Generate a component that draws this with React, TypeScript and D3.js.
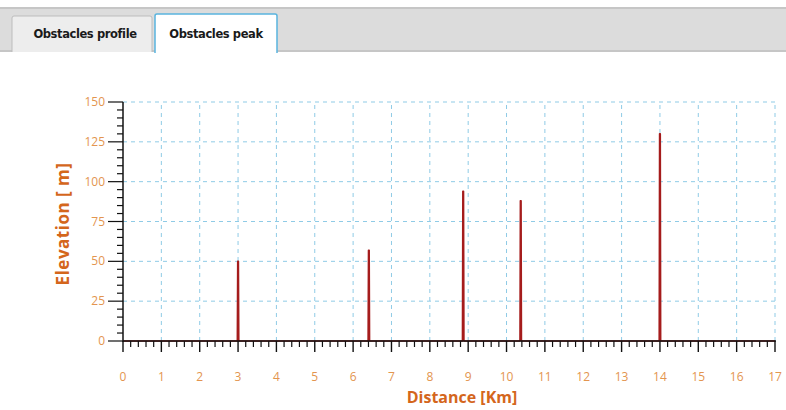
import React from "react";
import * as d3 from "d3";

const tabs = ["Obstacles profile", "Obstacles peak"];
const peakDistances = [3.0, 6.41, 8.87, 10.37, 14.0];
const peakElevations = [50, 57, 94, 88, 130];
const xTicks = d3.range(0, 18);
const yTicks = [0, 25, 50, 75, 100, 125, 150];
const xTitle = "Distance [Km]";
const yTitle = "Elevation [ m]";

const W = 786;
const H = 410;
const x0 = 123, x1 = 775, y0 = 341, y1 = 102;

export default function App() {
  const x = d3.scaleLinear().domain([0, 17]).range([x0, x1]);
  const y = d3.scaleLinear().domain([0, 150]).range([y0, y1]);
  const xMinor = d3.range(0, 17.0001, 0.2).filter((v) => Math.abs(v - Math.round(v)) > 0.01);
  const yMinor = d3.range(0, 150.0001, 5).filter((v) => v % 25 !== 0);
  const hw = 0.02;
  const spikePts: [number, number][] = [[0, 0]];
  peakDistances.forEach((d, i) => {
    spikePts.push([d - hw, 0], [d - hw / 2, peakElevations[i]], [d + hw / 2, peakElevations[i]], [d + hw, 0]);
  });
  spikePts.push([17, 0]);
  const line = d3.line<[number, number]>().x((p) => x(p[0])).y((p) => y(p[1]));
  const area = d3.area<[number, number]>().x((p) => x(p[0])).y0(y(0)).y1((p) => y(p[1]));

  const titleColor = "#d4661c";
  const tickColor = "#e3954f";
  const gridColor = "#8fcbe6";

  return (
    <svg width={W} height={H} style={{ position: "absolute", left: 0, top: 0, background: "#fff" }}
      fontFamily="'Open Sans', 'DejaVu Sans', sans-serif">
      <rect x={0} y={0} width={W} height={H} fill="#fff" />
      {/* tab strip */}
      <rect x={0} y={7} width={W} height={45} fill="#dcdcdc" />
      <rect x={0} y={7} width={W} height={2} fill="#c6c6c6" />
      <rect x={0} y={50} width={W} height={2} fill="#c6c6c6" />
      <path d="M12,52 V18 Q12,16 14,16 H150 Q152,16 152,18 V52" fill="#ededed" stroke="#bdbdbd" strokeWidth={1} />
      <path d="M155,53 V16 Q155,14 157,14 H275 Q277,14 277,16 V53" fill="#fff" stroke="#5ab4de" strokeWidth={1.5} />
      <text x={85} y={38} textAnchor="middle" fontFamily="'DejaVu Sans', sans-serif" fontWeight="bold" fontSize={11.5} fill="#1a1a1a" letterSpacing={-0.4}>{tabs[0]}</text>
      <text x={216} y={38} textAnchor="middle" fontFamily="'DejaVu Sans', sans-serif" fontWeight="bold" fontSize={11.5} fill="#1a1a1a" letterSpacing={-0.4}>{tabs[1]}</text>

      {/* grid */}
      <g stroke={gridColor} strokeWidth={1} strokeDasharray="4,4">
        {xTicks.filter((t) => t > 0).map((t) => (
          <line key={"gx" + t} x1={x(t)} x2={x(t)} y1={y(0)} y2={y(150)} />
        ))}
        {yTicks.filter((t) => t > 0).map((t) => (
          <line key={"gy" + t} x1={x(0)} x2={x(17)} y1={y(t)} y2={y(t)} />
        ))}
      </g>

      {/* data */}
      <path d={area(spikePts) || ""} fill="#a51c1c" />
      <path d={line(spikePts) || ""} fill="none" stroke="#a51c1c" strokeWidth={1.5} strokeLinejoin="round" />

      {/* axes */}
      <g stroke="#111" strokeWidth={1.5}>
        <line x1={x0} x2={x0} y1={y1} y2={y0 + 1} />
        <line x1={x0} x2={x1 + 1} y1={y0} y2={y0} />
        {yTicks.map((t) => (
          <line key={"yt" + t} x1={x0 - 15} x2={x0} y1={y(t)} y2={y(t)} strokeWidth={1.2} />
        ))}
        {yMinor.map((t) => (
          <line key={"ym" + t} x1={x0 - 6} x2={x0} y1={y(t)} y2={y(t)} strokeWidth={1.2} />
        ))}
        {xTicks.map((t) => (
          <line key={"xt" + t} x1={x(t)} x2={x(t)} y1={y0} y2={y0 + 11} strokeWidth={1.4} />
        ))}
        {xMinor.map((t) => (
          <line key={"xm" + t} x1={x(t)} x2={x(t)} y1={y0} y2={y0 + 6} strokeWidth={1.2} />
        ))}
      </g>

      {/* tick labels */}
      <g fill={tickColor} fontSize={12}>
        {yTicks.map((t) => (
          <text key={"yl" + t} x={x0 - 18} y={y(t) + 4} textAnchor="end">{t}</text>
        ))}
        {xTicks.map((t) => (
          <text key={"xl" + t} x={x(t)} y={381} textAnchor="middle">{t}</text>
        ))}
      </g>

      {/* titles */}
      <text x={(x0 + x1) / 2 + 13} y={403} textAnchor="middle" fontWeight="bold" fontSize={16} fill={titleColor}>{xTitle}</text>
      <text transform={`translate(69,224) rotate(-90)`} textAnchor="middle" fontWeight="bold" fontSize={17} fill={titleColor} letterSpacing={0.5}>{yTitle}</text>
    </svg>
  );
}
